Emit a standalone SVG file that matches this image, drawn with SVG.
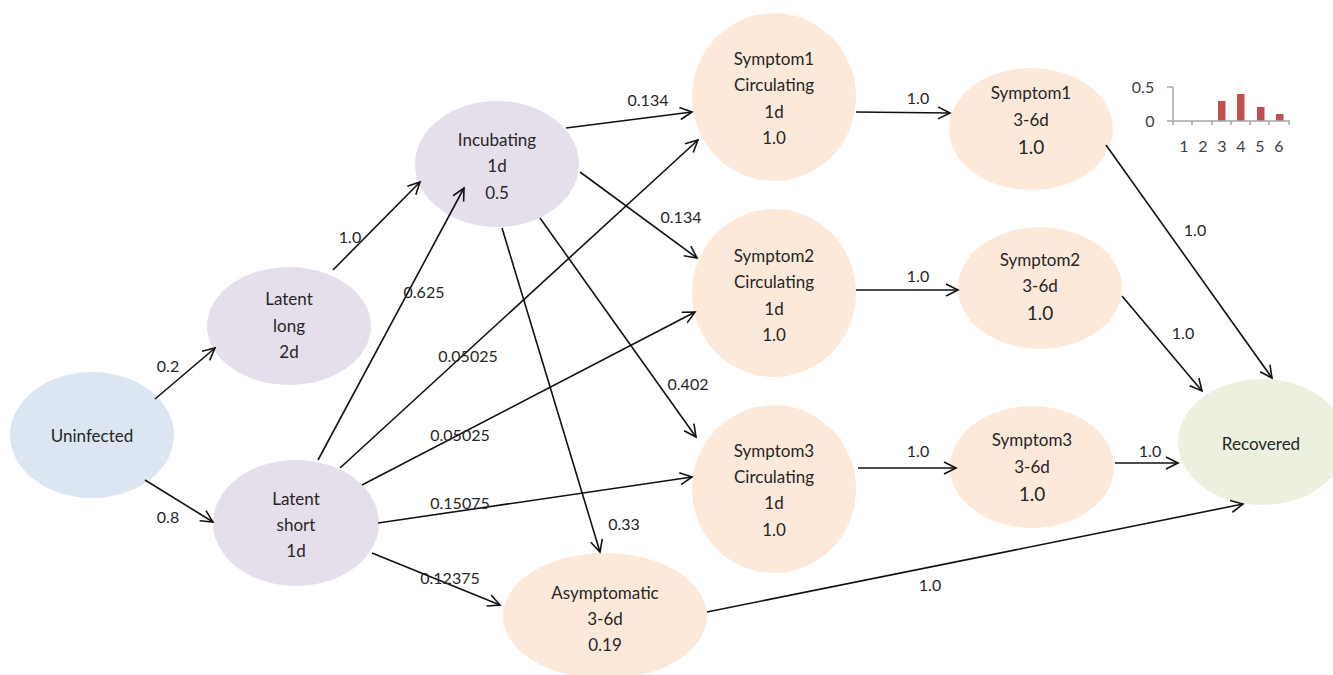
<svg xmlns="http://www.w3.org/2000/svg" width="1333" height="675" viewBox="0 0 1333 675">
<style>
.n text{font-family:Lato,"Noto Sans","Liberation Sans",sans-serif;font-size:17px;fill:#262626;text-anchor:middle}
.blue{fill:#dce6f2}.lav{fill:#e5dfec}.peach{fill:#fce9da}.green{fill:#ebf1de}
.e line{stroke:#111;stroke-width:1.6;fill:none;marker-end:url(#ah)}
.lbl{font-family:Lato,"Noto Sans","Liberation Sans",sans-serif;font-size:16px;fill:#262626;text-anchor:middle}
.ax{stroke:#a6a6a6;stroke-width:1.5;fill:none}
.bar{fill:#c0504d}
.ct{font-family:Lato,"Noto Sans","Liberation Sans",sans-serif;font-size:16px;fill:#404040;text-anchor:middle}
</style>
<defs>
<marker id="ah" markerWidth="16" markerHeight="16" refX="13" refY="7" orient="auto" markerUnits="userSpaceOnUse">
<path d="M1,1 L13,7 L1,13" fill="none" stroke="#111" stroke-width="1.6"/>
</marker>
</defs>
<rect width="1333" height="675" fill="#ffffff"/>
<g id="uninfected" class="n"><ellipse class="blue" cx="92" cy="435" rx="82" ry="63"/><text x="92" y="442">Uninfected</text></g>
<g id="latent-long" class="n"><ellipse class="lav" cx="289" cy="326" rx="82" ry="59"/><text x="289" y="305">Latent</text><text x="289" y="332">long</text><text x="289" y="358">2d</text></g>
<g id="latent-short" class="n"><ellipse class="lav" cx="296" cy="523" rx="83" ry="63"/><text x="296" y="505">Latent</text><text x="296" y="531">short</text><text x="296" y="557">1d</text></g>
<g id="incubating" class="n"><ellipse class="lav" cx="497" cy="164" rx="82" ry="63"/><text x="497" y="146">Incubating</text><text x="497" y="172">1d</text><text x="497" y="199">0.5</text></g>
<g id="symptom1-circ" class="n"><ellipse class="peach" cx="774" cy="97" rx="82" ry="84"/><text x="774" y="65">Symptom1</text><text x="774" y="91">Circulating</text><text x="774" y="118">1d</text><text x="774" y="144">1.0</text></g>
<g id="symptom2-circ" class="n"><ellipse class="peach" cx="774" cy="293" rx="82" ry="84"/><text x="774" y="262">Symptom2</text><text x="774" y="288">Circulating</text><text x="774" y="315">1d</text><text x="774" y="341">1.0</text></g>
<g id="symptom3-circ" class="n"><ellipse class="peach" cx="774" cy="489" rx="82" ry="84"/><text x="774" y="457">Symptom3</text><text x="774" y="483">Circulating</text><text x="774" y="509">1d</text><text x="774" y="536">1.0</text></g>
<g id="symptom1-dur" class="n"><ellipse class="peach" cx="1031" cy="129" rx="82" ry="61"/><text x="1031" y="99">Symptom1</text><text x="1031" y="126">3-6d</text><text x="1031" y="154" style="font-size:19px">1.0</text></g>
<g id="symptom2-dur" class="n"><ellipse class="peach" cx="1040" cy="288" rx="82" ry="61"/><text x="1040" y="266">Symptom2</text><text x="1040" y="292">3-6d</text><text x="1040" y="320" style="font-size:19px">1.0</text></g>
<g id="symptom3-dur" class="n"><ellipse class="peach" cx="1032" cy="467" rx="82" ry="61"/><text x="1032" y="446">Symptom3</text><text x="1032" y="473">3-6d</text><text x="1032" y="501" style="font-size:19px">1.0</text></g>
<g id="recovered" class="n"><ellipse class="green" cx="1262" cy="442" rx="84" ry="63"/><text x="1261" y="450">Recovered</text></g>
<g id="asymptomatic" class="n"><ellipse class="peach" cx="605" cy="616" rx="102" ry="63"/><text x="605" y="599">Asymptomatic</text><text x="605" y="625">3-6d</text><text x="605" y="651">0.19</text></g>
<g id="connectors" class="e">
<line x1="155" y1="399" x2="215" y2="348"/>
<line x1="145" y1="480" x2="213" y2="522"/>
<line x1="333" y1="270" x2="420" y2="182"/>
<line x1="318" y1="460" x2="464" y2="188"/>
<line x1="340" y1="468" x2="698" y2="140"/>
<line x1="362" y1="485" x2="695" y2="312"/>
<line x1="378" y1="523" x2="692" y2="477"/>
<line x1="372" y1="553" x2="500" y2="605"/>
<line x1="566" y1="128" x2="692" y2="112"/>
<line x1="580" y1="172" x2="697" y2="258"/>
<line x1="540" y1="218" x2="696" y2="437"/>
<line x1="502" y1="228" x2="600" y2="552"/>
<line x1="856" y1="112" x2="950" y2="113"/>
<line x1="856" y1="290" x2="958" y2="290"/>
<line x1="858" y1="468" x2="956" y2="468"/>
<line x1="1106" y1="145" x2="1272" y2="378"/>
<line x1="1122" y1="296" x2="1202" y2="391"/>
<line x1="1115" y1="463" x2="1178" y2="463"/>
<line x1="707" y1="612" x2="1243" y2="504"/>
</g>
<g id="edge-labels">
<text class="lbl" x="168" y="372">0.2</text>
<text class="lbl" x="168" y="523">0.8</text>
<text class="lbl" x="350" y="243">1.0</text>
<text class="lbl" x="424" y="298">0.625</text>
<text class="lbl" x="468" y="362">0.05025</text>
<text class="lbl" x="460" y="441">0.05025</text>
<text class="lbl" x="460" y="509">0.15075</text>
<text class="lbl" x="450" y="584">0.12375</text>
<text class="lbl" x="648" y="106">0.134</text>
<text class="lbl" x="681" y="223">0.134</text>
<text class="lbl" x="688" y="390">0.402</text>
<text class="lbl" x="624" y="530">0.33</text>
<text class="lbl" x="918" y="104">1.0</text>
<text class="lbl" x="918" y="282">1.0</text>
<text class="lbl" x="918" y="457">1.0</text>
<text class="lbl" x="1195" y="236">1.0</text>
<text class="lbl" x="1183" y="339">1.0</text>
<text class="lbl" x="1150" y="457">1.0</text>
<text class="lbl" x="930" y="591">1.0</text>
</g>
<g id="chart">
<rect class="bar" x="1218" y="101" width="7.5" height="20"/>
<rect class="bar" x="1237" y="94" width="7.5" height="27"/>
<rect class="bar" x="1257" y="107" width="7.5" height="14"/>
<rect class="bar" x="1276" y="114" width="7.5" height="7"/>
<path class="ax" d="M1173,87 V121 M1167,87 H1173 M1167,121 H1290 M1173,121 V125 M1192,121 V125 M1212,121 V125 M1231,121 V125 M1250,121 V125 M1269,121 V125 M1289,121 V125"/>
<text class="ct" x="1143" y="93">0.5</text>
<text class="ct" x="1150" y="127">0</text>
<text class="ct" x="1184" y="152">1</text>
<text class="ct" x="1203" y="152">2</text>
<text class="ct" x="1222" y="152">3</text>
<text class="ct" x="1241" y="152">4</text>
<text class="ct" x="1260" y="152">5</text>
<text class="ct" x="1279" y="152">6</text>
</g>
</svg>
